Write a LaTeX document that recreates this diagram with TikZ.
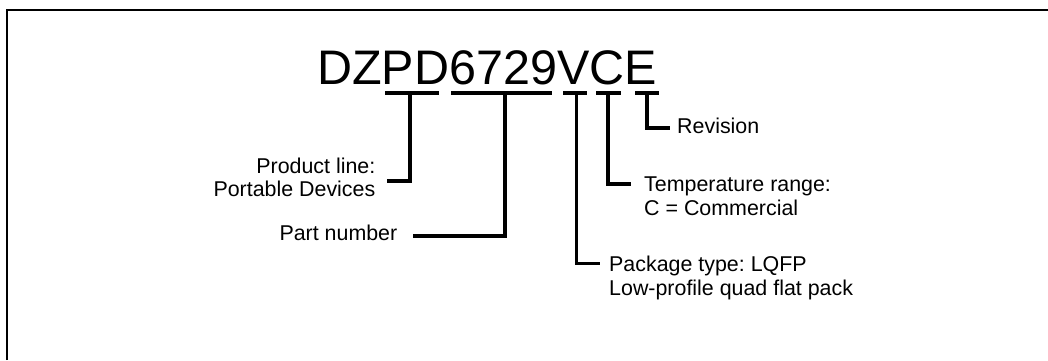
\documentclass[tikz,border=0pt]{standalone}
\usepackage{fontspec}
\setmainfont{Liberation Sans}
\frenchspacing
\begin{document}
\begin{tikzpicture}[x=1pt,y=-1pt,
  frame/.style={line width=2.2pt},
  conn/.style={line width=3.6pt, line join=miter},
  title/.style={inner sep=0pt, font=\fontsize{48.5}{52}\selectfont},
  lbl/.style={inner sep=0pt, font=\fontsize{21.4}{23.5}\selectfont}]
\useasboundingbox (0,0) rectangle (1048,360);
\draw[frame] (7,360) -- (7,10) -- (1048,10);
% title
\node[title, anchor=base west] (pn) at (317,84) {DZPD6729VCE};
% bar coordinates
\coordinate (b1l) at (385,93);   \coordinate (b1r) at (439,93);   \coordinate (b1m) at (410,93);
\coordinate (b2l) at (451,93);   \coordinate (b2r) at (552,93);   \coordinate (b2m) at (505,93);
\coordinate (b3l) at (563,93);   \coordinate (b3r) at (587,93);   \coordinate (b3m) at (576.5,93);
\coordinate (b4l) at (596,93);   \coordinate (b4r) at (621,93);   \coordinate (b4m) at (608,93);
\coordinate (b5l) at (635,93);   \coordinate (b5r) at (659,93);   \coordinate (b5m) at (647,93);
% labels
\node[lbl, anchor=base east] (prod1) at (375.5,173) {Product line:};
\node[lbl, anchor=base east] (prod2) at (375.5,196.7) {Portable Devices};
\node[lbl, anchor=base east] (part) at (397.5,240) {Part number};
\node[lbl, anchor=base west] (pkg1) at (609,271.7) {Package type: LQFP};
\node[lbl, anchor=base west] (pkg2) at (609,295) {Low-profile quad flat pack};
\node[lbl, anchor=base west] (temp1) at (644,191.7) {Temperature range:};
\node[lbl, anchor=base west] (temp2) at (644,215) {C = Commercial};
\node[lbl, anchor=base west] (rev) at (677,133.3) {Revision};
% connector ends
\coordinate (e1) at (386.7,180.7);
\coordinate (e2) at (413.3,236);
\coordinate (e3) at (600,263.3);
\coordinate (e4) at (631,184);
\coordinate (e5) at (670,128);
% bars
\draw[conn] (b1l) -- (b1r);
\draw[conn] (b2l) -- (b2r);
\draw[conn] (b3l) -- (b3r);
\draw[conn] (b4l) -- (b4r);
\draw[conn] (b5l) -- (b5r);
% connectors
\draw[conn] (b1m) |- (e1);
\draw[conn] (b2m) |- (e2);
\draw[conn] (b3m) |- (e3);
\draw[conn] (b4m) |- (e4);
\draw[conn] (b5m) |- (e5);
\end{tikzpicture}
\end{document}
